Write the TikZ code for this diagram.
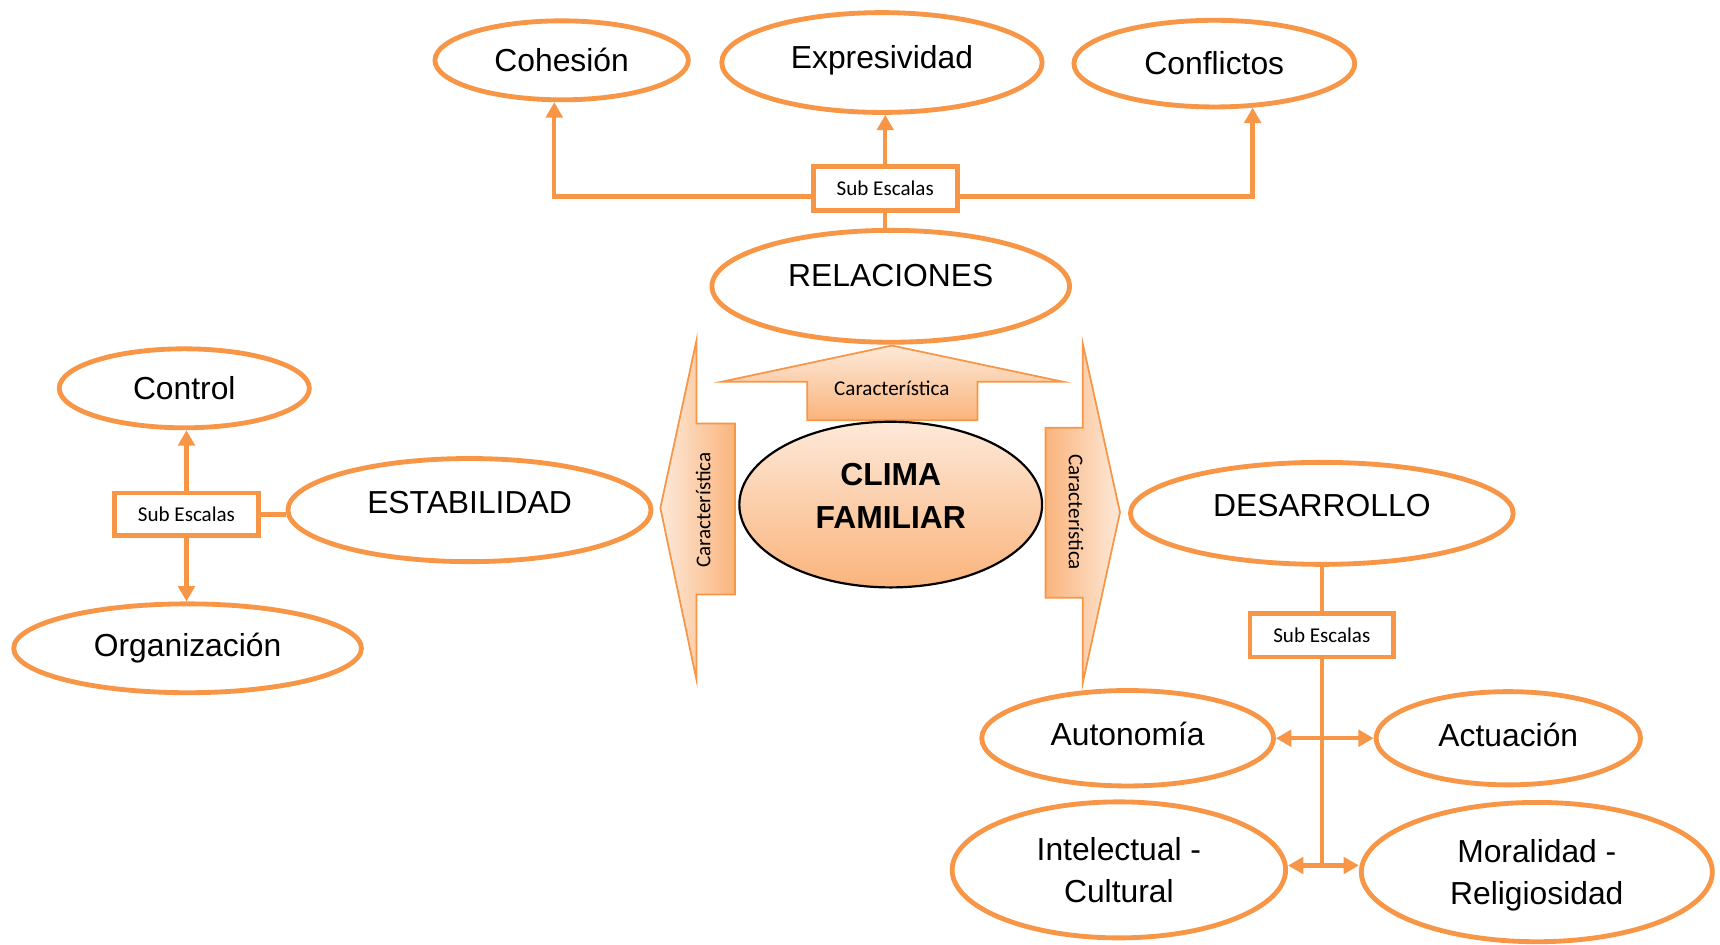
\documentclass[tikz,border=0pt]{standalone}
\usepackage{fontspec}
\setmainfont{Liberation Sans}
\newfontfamily\calfont{Carlito}
\usetikzlibrary{shapes.geometric,arrows.meta}
\definecolor{naranja}{HTML}{F79646}
\definecolor{durazno}{HTML}{FDE9D9}
\definecolor{melon}{HTML}{FAB47C}

\begin{document}
\begin{tikzpicture}[x=0.5pt,y=-0.5pt,
  elip/.style={ellipse, draw=naranja, line width=2.2pt, fill=white, inner sep=0pt, align=center, font=\fontsize{14.5}{19}\selectfont},
  sube/.style={text depth=#1},
  subbox/.style={draw=naranja, line width=2.2pt, fill=white, inner sep=0pt, minimum width=65.5pt, minimum height=20pt, font=\calfont\fontsize{9.6}{11}\selectfont},
  conn/.style={draw=naranja, line width=2pt},
  flecha/.style={arrows={-Triangle[length=7pt,width=7.5pt]}},
  doble/.style={arrows={Triangle[length=7pt,width=7.5pt]-Triangle[length=7pt,width=7.5pt]}},
  bloque/.style={draw=naranja, line width=0.8pt},
  etiq/.style={font=\calfont\fontsize{9.6}{11}\selectfont, inner sep=0pt}]
\useasboundingbox (0,0) rectangle (1568,861);

\shade[bloque, top color=durazno, bottom color=melon] (813,315) -- (969,348) -- (891,348) -- (891,383) -- (736,383) -- (736,348) -- (658,348) -- cycle;
\shade[bloque, left color=durazno, right color=melon] (602,463) -- (635,310) -- (635,386) -- (670,386) -- (670,542) -- (635,542) -- (635,620) -- cycle;
\shade[bloque, left color=melon, right color=durazno] (1021,467) -- (987,313) -- (987,390) -- (953,390) -- (953,545) -- (987,545) -- (987,623) -- cycle;
\node[etiq] (G0NCarSup) at (813,354) {Característica};
\node[etiq, rotate=90] (G0NCarIzq) at (641,465) {Característica};
\node[etiq, rotate=-90] (G0NCarDer) at (981,467) {Característica};
\node[ellipse, draw=black, line width=1pt, top color=durazno, bottom color=melon, minimum width=138pt, minimum height=75.5pt, inner sep=0pt, align=center, sube=8pt, font=\bfseries\fontsize{14.5}{19.5}\selectfont] (G0NClima) at (812,460) {CLIMA\\FAMILIAR};

\node[elip, minimum width=115.5pt, minimum height=36pt] (G1NCohesion) at (512,55) {Cohesión};
\node[elip, minimum width=146pt, minimum height=45.5pt, sube=5pt] (G1NExpresividad) at (804,57) {Expresividad};
\node[elip, minimum width=128pt, minimum height=39.5pt] (G1NConflictos) at (1107,58) {Conflictos};
\node[elip, minimum width=163pt, minimum height=51pt, sube=9.5pt] (G1NRelaciones) at (812,261) {RELACIONES};
\node[subbox] (G1NSub) at (807,172) {Sub Escalas};
\draw[conn] (G1NSub.south) -- (G1NSub.south |- G1NRelaciones.north);
\draw[conn, flecha] (G1NSub.north) -- (G1NSub.north |- G1NExpresividad.south);
\draw[conn, flecha] (G1NSub.186) -| (G1NCohesion.260);
\draw[conn, flecha] (G1NSub.354) -| (G1NConflictos.-49);

\node[elip, minimum width=114pt, minimum height=36pt] (G2NControl) at (168,354) {Control};
\node[elip, minimum width=165.5pt, minimum height=47pt, sube=7pt] (G2NEstabilidad) at (428,465) {ESTABILIDAD};
\node[elip, minimum width=158.5pt, minimum height=40.5pt] (G2NOrganizacion) at (171,591) {Organización};
\node[subbox, minimum height=19.5pt] (G2NSub) at (170,469) {Sub Escalas};
\draw[conn, flecha] (G2NSub.north) -- (G2NSub.north |- G2NControl.south);
\draw[conn, flecha] (G2NSub.south) -- (G2NSub.south |- G2NOrganizacion.north);
\draw[conn] (G2NSub.east) -- (G2NSub.east -| G2NEstabilidad.west);

\node[elip, minimum width=174.5pt, minimum height=46.5pt, sube=7pt] (G3NDesarrollo) at (1205,468) {DESARROLLO};
\node[subbox] (G3NSub) at (1205,579) {Sub Escalas};
\node[elip, minimum width=133pt, minimum height=43.5pt, sube=4pt] (G3NAutonomia) at (1028,673) {Autonomía};
\node[elip, minimum width=120.5pt, minimum height=42.5pt, sube=3pt] (G3NActuacion) at (1375,673) {Actuación};
\node[elip, minimum width=152pt, minimum height=62pt] (G3NIntelectual) at (1020,793) {Intelectual -\\Cultural};
\node[elip, minimum width=160pt, minimum height=63.5pt, sube=0pt] (G3NMoralidad) at (1401,795) {Moralidad -\\Religiosidad};
\coordinate (G3NFin) at (1205,789);
\draw[conn] (G3NDesarrollo.south) -- (G3NSub.north);
\draw[conn] (G3NSub.south) -- (G3NFin);
\draw[conn, doble] (G3NAutonomia.east) -- (G3NActuacion.west);
\draw[conn, doble] (G3NFin -| G3NIntelectual.east) -- (G3NFin -| G3NMoralidad.west);
\end{tikzpicture}
\end{document}
